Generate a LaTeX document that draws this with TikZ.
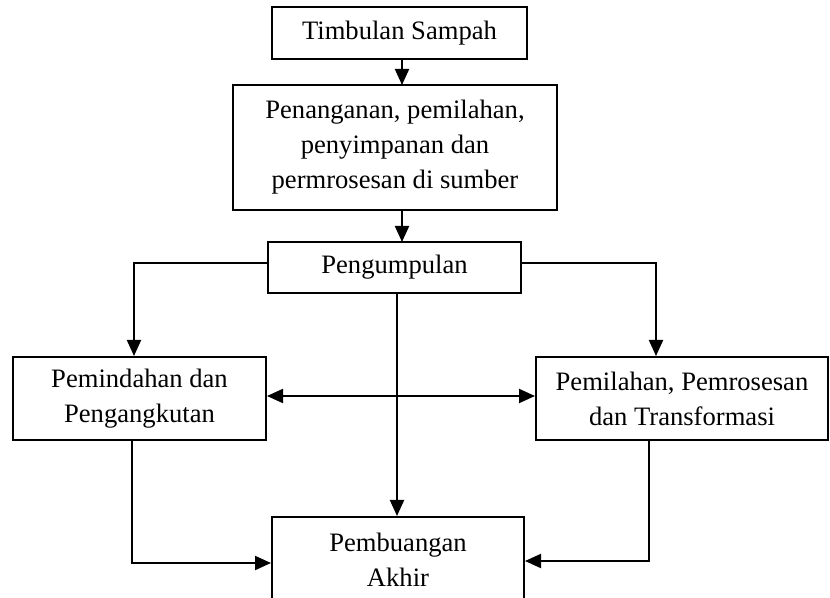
\documentclass[tikz,border=0pt]{standalone}
\usepackage{fontspec}
\setmainfont{Liberation Serif}
\usetikzlibrary{arrows.meta}

\begin{document}
\begin{tikzpicture}[x=0.5pt,y=-0.5pt]
        \tikzset{box/.style={draw,line width=1pt,inner sep=0pt,align=center,
            font=\fontsize{13.3}{17.5}\selectfont},
          arr/.style={line width=1pt,-{Triangle[length=8pt,width=7pt]}},
          both/.style={line width=1pt,{Triangle[length=8pt,width=7pt]}-{Triangle[length=8pt,width=7pt]}}}
        \useasboundingbox (0,0) rectangle (830,598);
        \clip (0,0) rectangle (830,598);
        % boxes
        \node[box,minimum width=127.5pt,minimum height=26pt] (timbulan) at (399.5,33) {Timbulan Sampah};
        \node[box,minimum width=162pt,minimum height=62.5pt] (penanganan) at (395,147.5)
          {Penanganan, pemilahan,\\ penyimpanan dan\\ permrosesan di sumber};
        \node[box,minimum width=126.5pt,minimum height=25.5pt] (pengumpulan) at (394.5,267.5) {Pengumpulan};
        \node[box,minimum width=126.5pt,minimum height=41.5pt] (pemindahan) at (139.5,398.5)
          {Pemindahan dan\\ Pengangkutan};
        \node[box,minimum width=146pt,minimum height=41.5pt] (pemilahan) at (682,398.5)
          {Pemilahan, Pemrosesan\\ dan Transformasi};
        \node[box,minimum width=126pt,minimum height=43pt] (pembuangan) at (398,560)
          {Pembuangan\\ Akhir};
        % turning points
        \coordinate (kiri) at (134,263);
        \coordinate (kanan) at (656,263);
        \coordinate (tengah) at (397,293);
        \coordinate (bawahkiri) at (132,563);
        \coordinate (bawahkanan) at (649,561);
        % arrows
        \draw[arr] (402,59) -- (402,85);
        \draw[arr] (402,210) -- (402,242);
        \draw[arr] (pengumpulan.west |- kiri) -- (kiri) -- (kiri |- pemindahan.north);
        \draw[arr] (pengumpulan.east |- kanan) -- (kanan) -- (kanan |- pemilahan.north);
        \draw[arr] (tengah) -- (tengah |- pembuangan.north);
        \draw[both] (pemindahan.east |- 0,396) -- (pemilahan.west |- 0,396);
        \draw[arr] (bawahkiri |- pemindahan.south) -- (bawahkiri) -- (pembuangan.west |- bawahkiri);
        \draw[arr] (bawahkanan |- pemilahan.south) -- (bawahkanan) -- (pembuangan.east |- bawahkanan);
\end{tikzpicture}
\end{document}
